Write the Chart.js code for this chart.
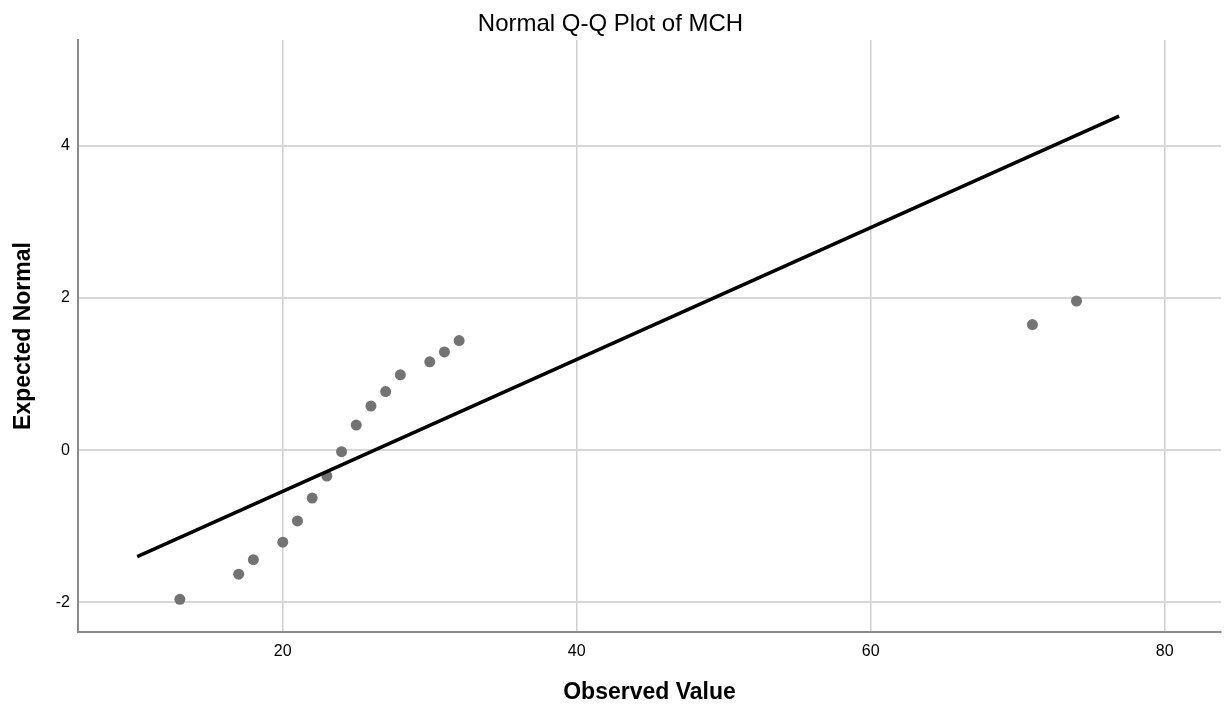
<!DOCTYPE html>
<html>
<head>
<meta charset="utf-8">
<script src="https://cdn.jsdelivr.net/npm/chart.js@4/dist/chart.umd.min.js"></script>
<style>
  html, body { margin: 0; padding: 0; background: #fff; }
  #wrap { width: 1228px; height: 711px; }
</style>
</head>
<body>
<div id="wrap"><canvas id="c" width="1228" height="711"></canvas></div>
<script>
// ---- data ----
const observedValues = [13, 17, 18, 20, 21, 22, 23, 24, 25, 26, 27, 28, 30, 31, 32, 71, 74];
const expectedNormal = [-1.96, -1.63, -1.44, -1.21, -0.93, -0.63, -0.34, -0.02, 0.33, 0.58, 0.77, 0.99, 1.16, 1.29, 1.44, 1.65, 1.96];
const refLineX = [10.1, 76.9];
const refLineY = [-1.40, 4.39];
const xTickValues = [20, 40, 60, 80];
const yTickValues = [-2, 0, 2, 4];
const chartTitle = 'Normal Q-Q Plot of MCH';
const xAxisTitle = 'Observed Value';
const yAxisTitle = 'Expected Normal';

const FONT = "'Liberation Sans', Arial, Helvetica, sans-serif";

const points = observedValues.map((x, i) => ({ x: x, y: expectedNormal[i] }));
const linePts = refLineX.map((x, i) => ({ x: x, y: refLineY[i] }));

new Chart(document.getElementById('c'), {
  type: 'scatter',
  data: {
    datasets: [
      {
        label: 'Line',
        data: linePts,
        showLine: true,
        borderColor: '#000000',
        borderWidth: 3.5,
        pointRadius: 0,
        pointHoverRadius: 0,
        tension: 0,
        fill: false
      },
      {
        label: 'Observed',
        data: points,
        backgroundColor: '#737373',
        borderColor: '#737373',
        borderWidth: 0,
        pointRadius: 5.5,
        pointHoverRadius: 5.5
      }
    ]
  },
  options: {
    responsive: false,
    animation: false,
    devicePixelRatio: 1,
    layout: { padding: { left: 0, right: 7, top: 0, bottom: 0 } },
    plugins: {
      legend: { display: false },
      tooltip: { enabled: false },
      title: {
        display: true,
        text: chartTitle,
        color: '#000',
        font: { family: FONT, size: 24, weight: 'normal', lineHeight: 1.2 },
        padding: { top: 10, bottom: 1.2 }
      }
    },
    scales: {
      x: {
        type: 'linear',
        min: 6.07,
        max: 83.83,
        afterBuildTicks: (s) => { s.ticks = xTickValues.map(v => ({ value: v })); },
        afterFit: (s) => { s.height = 79; },
        ticks: {
          color: '#000',
          padding: 10,
          font: { family: FONT, size: 16 },
          maxRotation: 0,
          callback: (v) => String(v)
        },
        grid: { color: '#cfcfcf', lineWidth: 1.5, drawTicks: false },
        border: { display: true, color: '#8a8a8a', width: 2 },
        title: {
          display: true,
          text: xAxisTitle,
          color: '#000',
          font: { family: FONT, size: 23, weight: 'bold', lineHeight: 1.2 },
          padding: { top: 0, bottom: 4.2 }
        }
      },
      y: {
        type: 'linear',
        min: -2.39,
        max: 5.39,
        afterBuildTicks: (s) => { s.ticks = yTickValues.map(v => ({ value: v })); },
        afterFit: (s) => { s.width = 78; },
        ticks: {
          color: '#000',
          padding: 8,
          font: { family: FONT, size: 16 },
          callback: (v) => String(v)
        },
        grid: { color: '#d8d8d8', lineWidth: 2, drawTicks: false },
        border: { display: true, color: '#8a8a8a', width: 2 },
        title: {
          display: true,
          text: yAxisTitle,
          color: '#000',
          font: { family: FONT, size: 23, weight: 'bold', lineHeight: 1.2 },
          padding: { top: 9.5, bottom: 0 }
        }
      }
    }
  }
});
</script>
</body>
</html>
